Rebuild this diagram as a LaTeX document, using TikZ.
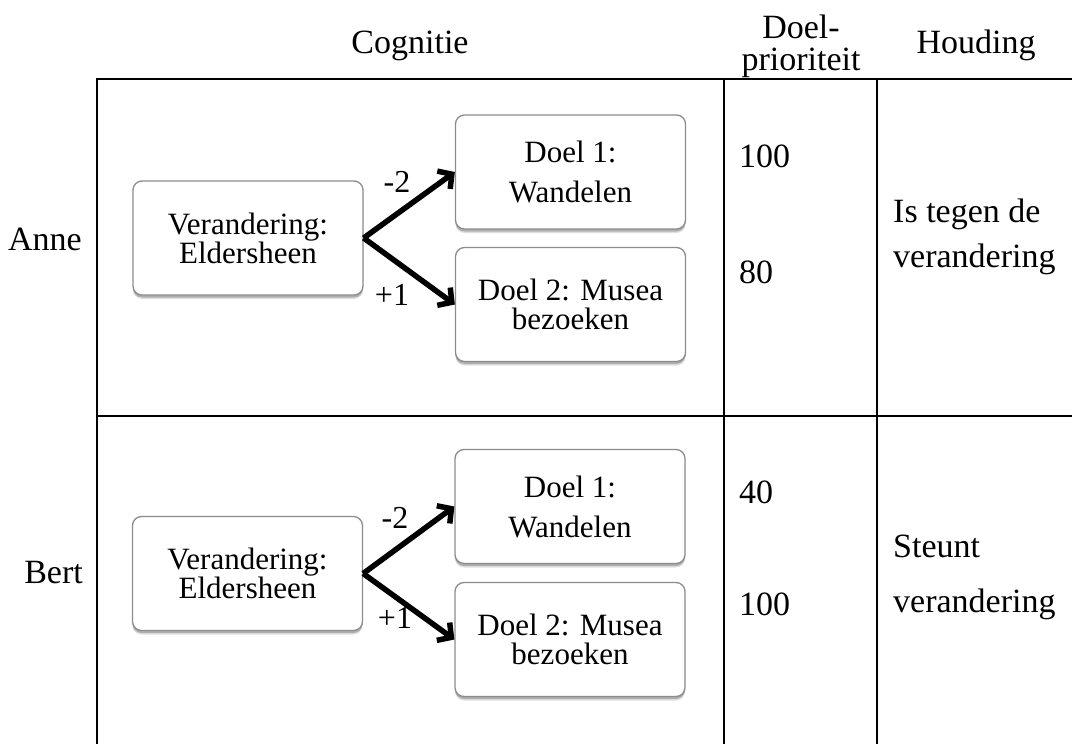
\documentclass[tikz,border=0pt]{standalone}
\usepackage{fontspec}
\setmainfont{Liberation Serif}
\usetikzlibrary{arrows.meta,shadows}
\begin{document}
\begin{tikzpicture}[x=1pt,y=-1pt,
  rule/.style={line width=2.4pt, black},
  box/.style={draw=black!45, line width=1.3pt, rounded corners=9pt, fill=white,
    minimum width=230pt, minimum height=114pt, inner sep=0pt, align=center,
    font=\fontsize{31}{29}\selectfont,
    general shadow={shadow xshift=0pt, shadow yshift=-4pt, fill=black, opacity=0.12},
    general shadow={shadow xshift=0pt, shadow yshift=-2.5pt, fill=black, opacity=0.22}},
  link/.style={-{Straight Barb[length=10pt,width=22pt]}, line width=5.5pt},
  weight/.style={font=\fontsize{32}{32}\selectfont, anchor=base, inner sep=0pt},
  txt/.style={font=\fontsize{34}{40}\selectfont, inner sep=0pt, anchor=base},
]
\useasboundingbox (0,0) rectangle (1072,744);
\fill[white] (0,0) rectangle (1072,744);

% table rules
\draw[rule] (97,744) -- (97,79) -- (1072,79);
\draw[rule] (97,416) -- (1072,416);
\draw[rule] (724,79) -- (724,744);
\draw[rule] (877,79) -- (877,744);

% column headings
\node[txt] (hcog) at (410,53) {Cognitie};
\node[txt] (hdoel) at (801,38) {Doel-};
\node[txt] (hprio) at (801,70) {prioriteit};
\node[txt] (hhoud) at (976,53) {Houding};

% row labels
\node[txt, anchor=base east] (anne) at (82,250) {Anne};
\node[txt, anchor=base east] (bert) at (83,583) {Bert};

% Anne
\node[box] (av) at (248,238) {Verandering:\\Eldersheen};
\node[box] (a1) at (570.5,172) {Doel 1:\\[11pt]Wandelen};
\node[box] (a2) at (570.5,304.5) {Doel 2: Musea\\bezoeken};
\draw[link] (av.east) -- (a1.west);
\draw[link] (av.east) -- (a2.west);
\node[weight] (aw1) at (397,192) {-2};
\node[weight] (aw2) at (392,305) {+1};

\node[txt, anchor=base west] (ap1) at (739,167) {100};
\node[txt, anchor=base west] (ap2) at (739,283) {80};
\node[txt, anchor=base west] (ah1) at (893,222) {Is tegen de};
\node[txt, anchor=base west] (ah2) at (893,267) {verandering};

% Bert
\node[box] (bv) at (247.5,573.5) {Verandering:\\Eldersheen};
\node[box] (b1) at (570,506.5) {Doel 1:\\[11pt]Wandelen};
\node[box] (b2) at (570,639.5) {Doel 2: Musea\\bezoeken};
\draw[link] (bv.east) -- (b1.west);
\draw[link] (bv.east) -- (b2.west);
\node[weight] (bw1) at (395,528) {-2};
\node[weight] (bw2) at (395,628) {+1};

\node[txt, anchor=base west] (bp1) at (739,503) {40};
\node[txt, anchor=base west] (bp2) at (739,615) {100};
\node[txt, anchor=base west] (bh1) at (893,557) {Steunt};
\node[txt, anchor=base west] (bh2) at (893,612) {verandering};
\end{tikzpicture}
\end{document}
